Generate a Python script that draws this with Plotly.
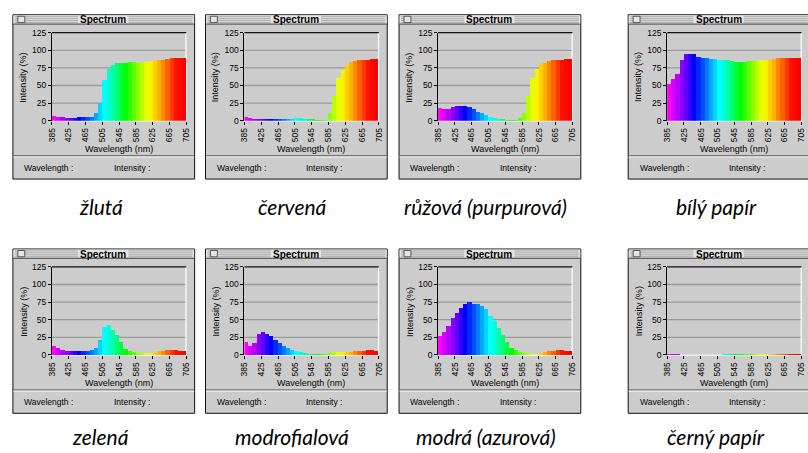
import plotly.graph_objects as go

W, H = 808, 453

# ---------------- data ----------------
wavelengths = [390, 400, 410, 420, 430, 440, 450, 460, 470, 480, 490, 500,
               510, 520, 530, 540, 550, 560, 570, 580, 590, 600, 610, 620,
               630, 640, 650, 660, 670, 680, 690, 700]
tick_vals = [385, 425, 465, 505, 545, 585, 625, 665, 705]
tick_text = ["385", "425", "465", "505", "545", "585", "625", "665", "705"]
y_ticks = [0, 25, 50, 75, 100, 125]

zluta = [7, 6, 5, 4, 4, 4, 5, 5, 6, 6, 12, 26, 58, 74, 80, 82,
         82, 83, 84, 84, 83, 84, 84, 85, 85, 86, 87, 88, 89, 89, 89, 89]
cervena = [5, 4, 3, 3, 3, 3, 3, 3, 3, 3, 3, 3, 4, 4, 3, 3,
           3, 2, 2, 2, 12, 35, 61, 73, 80, 84, 85, 86, 86, 87, 88, 88]
ruzova = [18, 17, 17, 20, 22, 22, 22, 20, 17, 13, 11, 9, 5, 4, 3, 3,
          2, 2, 1, 4, 12, 35, 61, 74, 81, 83, 85, 86, 87, 87, 88, 88]
bily = [53, 60, 67, 87, 95, 95, 95, 91, 90, 90, 88, 88, 87, 86, 86, 85,
        84, 84, 84, 85, 85, 85, 86, 87, 87, 88, 89, 89, 89, 89, 89, 89]
zelena = [13, 10, 7, 6, 6, 5, 5, 5, 5, 7, 10, 22, 40, 42, 36, 29,
          18, 9, 5, 4, 3, 3, 3, 3, 3, 5, 6, 7, 7, 7, 6, 6]
modrofialova = [19, 13, 17, 30, 32, 30, 27, 22, 17, 13, 10, 7, 5, 4, 3, 2,
                1, 1, 1, 2, 3, 4, 4, 4, 4, 4, 5, 6, 6, 7, 7, 5]
modra = [27, 33, 41, 52, 60, 67, 73, 75, 73, 72, 70, 65, 56, 49, 39, 29,
         18, 10, 7, 4, 3, 3, 2, 2, 3, 4, 5, 6, 7, 7, 6, 5]
cerny = [1.5, 1.5, 1.5, 0, 0, 0, 0, 0, 0, 0, 0, 0, 0, 1.5, 1.5, 1.5,
         1.5, 1.5, 1.5, 1.5, 1.5, 1.5, 1.5, 1.5, 1.5, 1.5, 1.5, 1.5, 1.5, 1.5, 1.5, 1.5]

series = [zluta, cervena, ruzova, bily, zelena, modrofialova, modra, cerny]
captions = ["žlutá", "červená", "růžová (purpurová)", "bílý papír",
            "zelená", "modrofialová", "modrá (azurová)", "černý papír"]

# ---------------- style ----------------
spectrum_stops = [(390, "#ff00ff"), (410, "#b400ff"), (430, "#6000ff"), (450, "#0000ff"),
                  (470, "#0050ff"), (490, "#00aaff"), (510, "#00ffff"), (535, "#00ff90"),
                  (560, "#00ff00"), (590, "#8cff00"), (615, "#ffff00"), (640, "#ffb000"),
                  (660, "#ff6000"), (680, "#ff1000"), (700, "#ff0000")]
cmin, cmax = 390, 700
colorscale = [[(w - cmin) / (cmax - cmin), c] for w, c in spectrum_stops]

win_x = [8, 203, 399, 631]
win_y = [10, 249.5]
cap_x = [97, 291, 487, 720]
cap_y = [206, 441]
WIN_W, WIN_H = 184, 168
BODY = "#cccccc"
FONT = "Liberation Sans, Arial, sans-serif"


def fx(x):
    return x / W


def fy(y):
    return 1 - y / H


fig = go.Figure()
shapes = []
annotations = []


def rect(x0, y0, x1, y1, fill=None, line=None, lw=1, layer="below"):
    shapes.append(dict(type="rect", xref="paper", yref="paper",
                       x0=fx(x0), x1=fx(x1), y0=fy(y1), y1=fy(y0),
                       fillcolor=fill if fill else "rgba(0,0,0,0)",
                       line=dict(color=line if line else "rgba(0,0,0,0)", width=lw if line else 0),
                       layer=layer))


def hline(x0, x1, y, color, lw=1, layer="below"):
    shapes.append(dict(type="line", xref="paper", yref="paper",
                       x0=fx(x0), x1=fx(x1), y0=fy(y), y1=fy(y),
                       line=dict(color=color, width=lw), layer=layer))


def vline(x, y0, y1, color, lw=1, layer="below"):
    shapes.append(dict(type="line", xref="paper", yref="paper",
                       x0=fx(x), x1=fx(x), y0=fy(y0), y1=fy(y1),
                       line=dict(color=color, width=lw), layer=layer))


def text(x, y, s, size=9, bold=False, angle=0, family=FONT, italic=False, xanchor="center"):
    if bold:
        s = "<b>" + s + "</b>"
    if italic:
        s = "<i>" + s + "</i>"
    annotations.append(dict(x=fx(x), y=fy(y), xref="paper", yref="paper", text=s,
                            showarrow=False, textangle=angle, xanchor=xanchor, yanchor="middle",
                            font=dict(size=size, family=family, color="black")))


layout_axes = {}
for i, vals in enumerate(series):
    col, row = i % 4, i // 4
    wx, wy = win_x[col], win_y[row]
    n = i + 1
    sfx = str(n) if n > 1 else ""
    px0, px1 = wx + 39.5, wx + 175.5
    py0, py1 = wy + 18.3, wy + 108.3

    # window body
    rect(wx, wy, wx + WIN_W, wy + WIN_H, fill=BODY, line="#111111", lw=1)
    # title bar
    rect(wx + 0.5, wy + 0.5, wx + WIN_W - 0.5, wy + 9.5, fill="#e4e4e4")
    for k in range(4):
        hline(wx + 2, wx + WIN_W - 2, wy + 2 + 2 * k, "#a6a6a6", 1)
    rect(wx + 66, wy + 1, wx + 117, wy + 9, fill="#e4e4e4")
    rect(wx + 5, wy + 1.5, wx + 12, wy + 8, fill="#e4e4e4", line="#555555", lw=1)
    hline(wx, wx + WIN_W, wy + 9.5, "#444444", 1)
    text(wx + 91.5, wy + 5.2, "Spectrum", size=10, bold=True)

    # plot area decorations
    for g in y_ticks[1:-1]:
        gy = py1 - (py1 - py0) * g / 125
        hline(px0, px1, gy, "#9a9a9a", 1.3)
    hline(px0, px1, py1 + 0.3, "#ffffff", 1)
    vline(px1 - 0.3, py0, py1, "#ffffff", 1.2)
    hline(px0, px1, py0, "#111111", 1.2, layer="above")

    # separator and info line
    hline(wx + 0.5, wx + WIN_W - 0.5, wy + 144, "#6a6a6a", 1)
    hline(wx + 0.5, wx + WIN_W - 0.5, wy + 145.5, "#eeeeee", 1)
    text(wx + 9.5, wy + 156.7, "Wavelength :", size=8.5, xanchor="left")
    text(wx + 100, wy + 156.7, "Intensity :", size=8.5, xanchor="left")

    # axis titles
    text(wx + 107, wy + 137, "Wavelength (nm)", size=9)
    text(wx + 10.5, wy + 64, "Intensity (%)", size=9, angle=-90)

    # caption
    text(cap_x[col], cap_y[row], captions[i], size=21, italic=True,
         family="Lato, Open Sans, sans-serif")

    fig.add_trace(go.Bar(
        x=wavelengths, y=vals, width=10,
        marker=dict(color=wavelengths, colorscale=colorscale, cmin=cmin, cmax=cmax,
                    line=dict(width=0)),
        xaxis="x" + sfx, yaxis="y" + sfx,
        showlegend=False, hoverinfo="skip"))

    layout_axes["xaxis" + sfx] = dict(
        domain=[fx(px0), fx(px1)], range=[385, 705], tickvals=tick_vals,
        ticktext=tick_text, tickangle=-90, ticks="outside", ticklen=3,
        tickcolor="#000000", tickwidth=1, showgrid=False, zeroline=False,
        showline=False, tickfont=dict(size=8.5, family=FONT, color="black"),
        anchor="y" + sfx, fixedrange=True)
    layout_axes["yaxis" + sfx] = dict(
        domain=[fy(py1), fy(py0)], range=[0, 125], tickvals=y_ticks,
        ticks="outside", ticklen=3, tickcolor="#000000", tickwidth=1,
        showgrid=False, zeroline=False, showline=True, linecolor="#000000",
        linewidth=1, tickfont=dict(size=8.5, family=FONT, color="black"),
        anchor="x" + sfx, fixedrange=True)

fig.update_layout(
    width=W, height=H, margin=dict(l=0, r=0, t=0, b=0),
    paper_bgcolor="white", plot_bgcolor=BODY, bargap=0,
    shapes=shapes, annotations=annotations, **layout_axes)

fig.write_html("out.html", config={"displayModeBar": False},
               post_script="document.body.style.margin='0px';document.body.style.overflow='hidden';")
